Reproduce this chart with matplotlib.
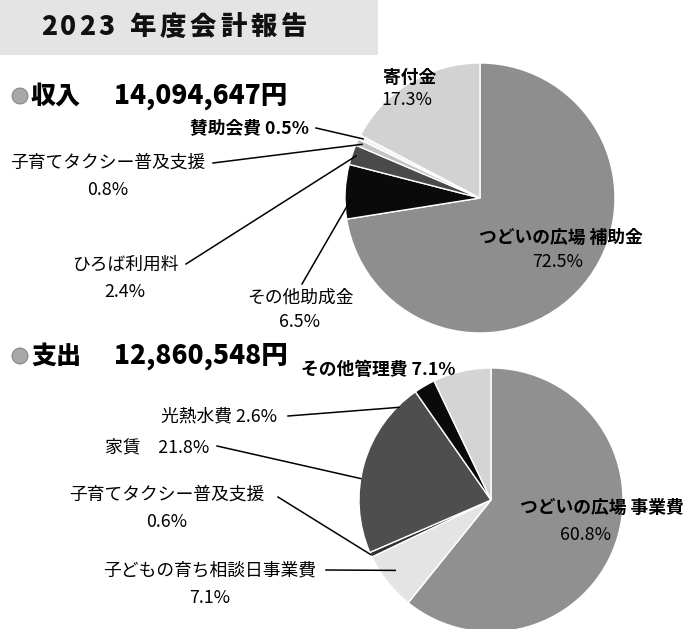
import numpy as np
import matplotlib
matplotlib.use("Agg")
import matplotlib.pyplot as plt
from matplotlib.patches import Rectangle, Circle

plt.rcParams['font.family'] = ['Noto Sans CJK JP', 'DejaVu Sans']

# ---------------- data ----------------
title_text = "2023年度会計報告"
income_title = "収入"
income_total = "14,094,647円"
expense_title = "支出"
expense_total = "12,860,548円"

income_labels = ['つどいの広場 補助金', 'その他助成金', 'ひろば利用料',
                 '子育てタクシー普及支援', '賛助会費', '寄付金']
income_values = [72.5, 6.5, 2.4, 0.8, 0.5, 17.3]

expense_labels = ['つどいの広場 事業費', '子どもの育ち相談日事業費', '子育てタクシー普及支援',
                  '家賃', '光熱水費', 'その他管理費']
expense_values = [60.8, 7.1, 0.6, 21.8, 2.6, 7.1]

# ---------------- style ----------------
H = 629
W = 688
fig = plt.figure(figsize=(W / 100, H / 100), dpi=100)
ax = fig.add_axes([0, 0, 1, 1])
ax.set_xlim(0, W)
ax.set_ylim(0, H)
ax.set_aspect('equal')
ax.axis('off')

def Y(y):
    return H - y

FAM = ['Noto Sans CJK JP', 'DejaVu Sans']

# title banner
ax.add_patch(Rectangle((0, Y(55)), 378, 55, facecolor='#e4e4e4', edgecolor='none', zorder=0))
xs = [49 + 19 * i for i in range(4)] + [142 + 30.4 * i for i in range(6)]
for ch, x in zip(title_text, xs):
    ax.text(x, Y(27), ch, ha='center', va='center', fontsize=19,
            fontweight='heavy', family=FAM, color='#111111')

# section headings
for yy, t1, t2 in [(96, income_title, income_total), (356, expense_title, expense_total)]:
    ax.add_patch(Circle((20, Y(yy)), 8, facecolor='#a8a8a8', edgecolor='#777777', lw=0.6))
    ax.text(31, Y(yy), t1, ha='left', va='center', fontsize=18, fontweight='heavy', family=FAM)
    ax.text(114, Y(yy), t2, ha='left', va='center', fontsize=19, fontweight='heavy', family=FAM)

# ---------------- pies ----------------
def draw_pie(values, colors, center, radius):
    wedges, _ = ax.pie(values, colors=colors, startangle=90, counterclock=False,
                       center=(center[0], Y(center[1])), radius=radius,
                       wedgeprops=dict(edgecolor='white', linewidth=1.0))
    return wedges

inc_colors = ['#8e8e8e', '#0a0a0a', '#4a4a4a', '#c4c4c4', '#f2f2f2', '#d2d2d2']
exp_colors = ['#909090', '#e4e4e4', '#303030', '#4e4e4e', '#0a0a0a', '#d4d4d4']

inc_center = (480, 198)
inc_r = 135
exp_center = (491, 500)
exp_r = 132

inc_w = draw_pie(income_values, inc_colors, inc_center, inc_r)
exp_w = draw_pie(expense_values, exp_colors, exp_center, exp_r)
ax.set_xlim(0, W)
ax.set_ylim(0, H)

def anchor(w, shift=0.0, rf=0.97):
    a = np.deg2rad((w.theta1 + w.theta2) / 2 + shift)
    cx, cy = w.center
    return cx + w.r * rf * np.cos(a), cy + w.r * rf * np.sin(a)

def leader(start, w, shift=0.0, rf=0.97):
    ex, ey = anchor(w, shift, rf)
    ax.plot([start[0], ex], [Y(start[1]), ey], color='black', lw=1.1, zorder=5)

fs = 12.8

def label(x, y, text, bold=False, ha='center'):
    ax.text(x, Y(y), text, ha=ha, va='center', fontsize=fs, family=FAM,
            fontweight='bold' if bold else 'normal', linespacing=1.3, zorder=6)

# income labels
label(561, 238, income_labels[0], bold=True)
label(558, 262, f"{income_values[0]}%")
label(300, 298, income_labels[1])
label(300, 322, f"{income_values[1]}%")
label(125, 265, income_labels[2])
label(125, 292, f"{income_values[2]}%")
label(108, 163, income_labels[3])
label(108, 190, f"{income_values[3]}%")
label(250, 128, f"{income_labels[4]} {income_values[4]}%", bold=True)
label(410, 78, income_labels[5], bold=True)
label(407, 100, f"{income_values[5]}%")

leader((302, 284), inc_w[1], shift=3.7, rf=0.96)
leader((186, 264), inc_w[2], rf=0.97)
leader((213, 163), inc_w[3], rf=0.96)
leader((316, 128), inc_w[4], rf=0.97)

# expense labels
label(520, 508, expense_labels[0], bold=True, ha='left')
label(586, 535, f"{expense_values[0]}%")
label(210, 570, expense_labels[1])
label(210, 598, f"{expense_values[1]}%")
label(167, 495, expense_labels[2])
label(167, 522, f"{expense_values[2]}%")
label(157, 447, f"{expense_labels[3]}　{expense_values[3]}%")
label(219, 416, f"{expense_labels[4]} {expense_values[4]}%")
label(378, 370, f"{expense_labels[5]} {expense_values[5]}%", bold=True)

leader((326, 570), exp_w[1], shift=-2, rf=0.90)
leader((278, 497), exp_w[2], rf=1.0)
leader((217, 446), exp_w[3], shift=6.5, rf=1.0)
leader((288, 416), exp_w[4], shift=14.6, rf=0.99)

fig.savefig('out.png', dpi=100, facecolor='white')
